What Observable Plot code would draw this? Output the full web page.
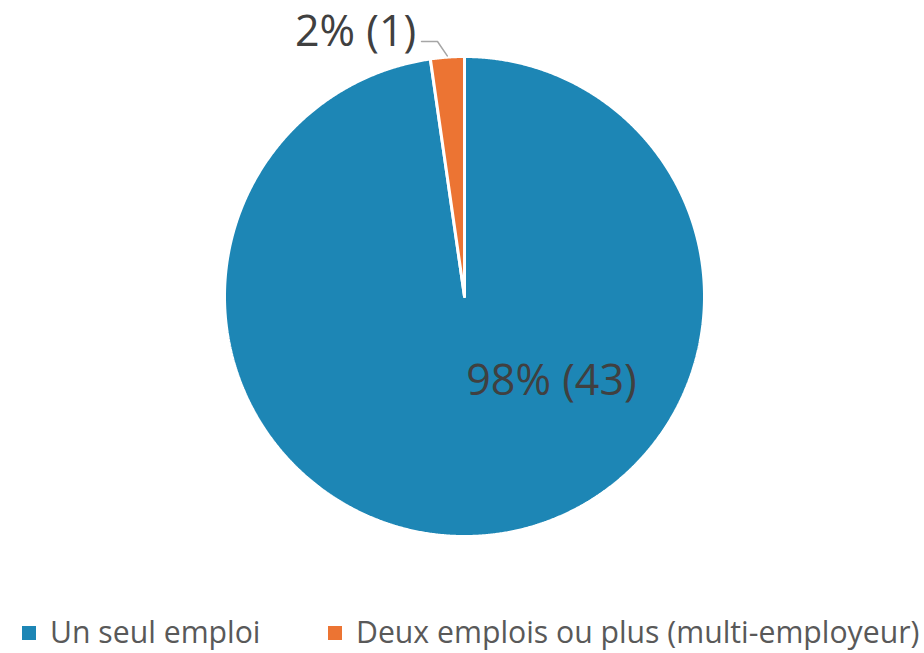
<!DOCTYPE html>
<html><head><meta charset="utf-8">
<script src="https://cdn.jsdelivr.net/npm/d3@7"></script>
<script src="https://cdn.jsdelivr.net/npm/@observablehq/plot@0.6"></script>
<style>
body{margin:0;background:#fff;font-family:"Open Sans",sans-serif;}
#legend{position:relative;height:53px;width:924px;}
.sw{position:absolute;top:26px;width:14px;height:14px;}
.lt{position:absolute;top:17px;font-size:30.2px;line-height:30px;color:#595959;white-space:nowrap;}
</style></head><body><div id="chart"></div><div id="legend"></div>
<script>
const categories = ["Un seul emploi", "Deux emplois ou plus (multi-employeur)"];
const counts = [43, 1];
const percentLabels = ["98% (43)", "2% (1)"];
const colors = ["#1D86B5", "#EC7433"];

const W = 924, H = 600, R = 240, CX = 464, CY = 296;
const arcs = d3.pie().sort(null)(counts);
const polar = (a, r) => ({x: r * Math.sin(a), y: r * Math.cos(a)});

const slices = arcs.map((a, i) => {
  const pts = [{x: 0, y: 0}];
  const n = Math.max(4, Math.ceil((a.endAngle - a.startAngle) / 0.005));
  for (let k = 0; k <= n; k++) pts.push(polar(a.startAngle + (a.endAngle - a.startAngle) * k / n, 1));
  pts.push({x: 0, y: 0});
  return pts.map(p => ({...p, cat: categories[i]}));
});

// label placement
const mid1 = (arcs[1].startAngle + arcs[1].endAngle) / 2;
const lead0 = polar(mid1, 1.005);
const leader = [lead0, {x: -0.1125, y: 1.0625}, {x: -0.179, y: 1.0625}];
const labels = [
  {x: 0.3625, y: -0.352, text: percentLabels[0]},
  {x: -0.454, y: 1.1, text: percentLabels[1]}
];

const chart = Plot.plot({
  width: W, height: H, margin: 0,
  x: {domain: [-CX / R, (W - CX) / R], axis: null},
  y: {domain: [-(H - CY) / R, CY / R], axis: null},
  color: {domain: categories, range: colors},
  marks: [
    ...slices.map(s => Plot.line(s, {x: "x", y: "y", fill: colors[categories.indexOf(s[0].cat)], stroke: "white", strokeWidth: 3, strokeLinejoin: "miter", curve: "linear"})),
    Plot.line(leader, {x: "x", y: "y", stroke: "#a6a6a6", strokeWidth: 1.5}),
    Plot.text(labels, {x: "x", y: "y", text: "text", fontSize: 43, fill: "#404040", fontFamily: "Open Sans"})
  ],
  style: {fontFamily: "Open Sans", background: "white"}
});
document.getElementById("chart").append(chart);

const leg = document.getElementById("legend");
const pos = [[22, 50], [328, 356]];
categories.forEach((c, i) => {
  const s = document.createElement("div"); s.className = "sw"; s.style.left = pos[i][0] + "px"; s.style.background = colors[i]; leg.append(s);
  const t = document.createElement("div"); t.className = "lt"; t.style.left = pos[i][1] + "px"; t.textContent = c; leg.append(t);
});
</script>
</body></html>
